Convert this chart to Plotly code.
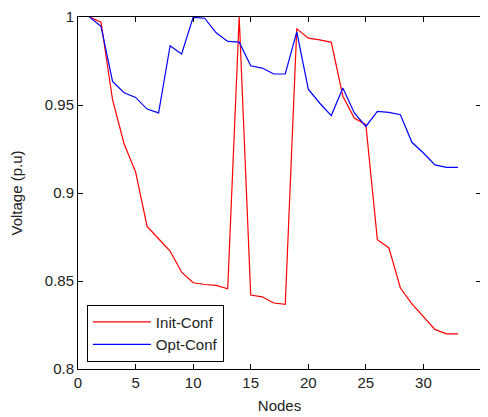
import plotly.graph_objects as go

nodes = list(range(1, 34))
init_conf = [1.0, 0.997, 0.953, 0.928, 0.912, 0.881, 0.874, 0.867, 0.855, 0.849,
             0.848, 0.8475, 0.8456, 1.0, 0.842, 0.841, 0.8375, 0.8367, 0.9934, 0.988,
             0.987, 0.9856, 0.955, 0.9426, 0.9388, 0.8735, 0.8688, 0.846, 0.837, 0.83,
             0.8225, 0.82, 0.82]
opt_conf = [1.0, 0.9947, 0.9634, 0.957, 0.9543, 0.9477, 0.9455, 0.9837, 0.979, 0.9998,
            0.9993, 0.991, 0.9861, 0.9857, 0.9723, 0.971, 0.9676, 0.9676, 0.9915, 0.959,
            0.951, 0.944, 0.9597, 0.9455, 0.9378, 0.9464, 0.9458, 0.9445, 0.9288, 0.9227,
            0.916, 0.9146, 0.9146]
x_ticks = [0, 5, 10, 15, 20, 25, 30, 35]
y_ticks = [0.8, 0.85, 0.9, 0.95, 1.0]
y_tick_labels = ["0.8", "0.85", "0.9", "0.95", "1"]

FONT = "Liberation Sans, Arial, sans-serif"

fig = go.Figure()
fig.add_trace(go.Scatter(x=nodes, y=init_conf, mode="lines", name="Init-Conf",
                         line=dict(color="#ff0000", width=1.2)))
fig.add_trace(go.Scatter(x=nodes, y=opt_conf, mode="lines", name="Opt-Conf",
                         line=dict(color="#0000ff", width=1.2)))

axis_common = dict(showline=True, linecolor="black", linewidth=1, mirror="ticks",
                   ticks="inside", ticklen=5, tickcolor="black", showgrid=False,
                   zeroline=False, automargin=False,
                   tickfont=dict(family=FONT, size=15, color="#222"))

fig.update_xaxes(range=[0, 35], tickvals=x_ticks,
                 title=dict(text="Nodes", standoff=10,
                            font=dict(family=FONT, size=15, color="#222")), **axis_common)
fig.update_yaxes(range=[0.8, 1.0], tickvals=y_ticks, ticktext=y_tick_labels,
                 title=dict(text="Voltage (p.u)", standoff=22,
                            font=dict(family=FONT, size=15, color="#222")),
                 **axis_common)

fig.update_layout(
    width=480, height=409,
    margin=dict(l=70, r=7, t=9, b=48),
    paper_bgcolor="white", plot_bgcolor="white",
    showlegend=True,
    legend=dict(x=0.022, y=0.021, xanchor="left", yanchor="bottom",
                bordercolor="black", borderwidth=1, bgcolor="white",
                itemwidth=58,
                font=dict(family=FONT, size=15, color="#222"),
                tracegroupgap=0),
)

fig.write_html("out.html")
